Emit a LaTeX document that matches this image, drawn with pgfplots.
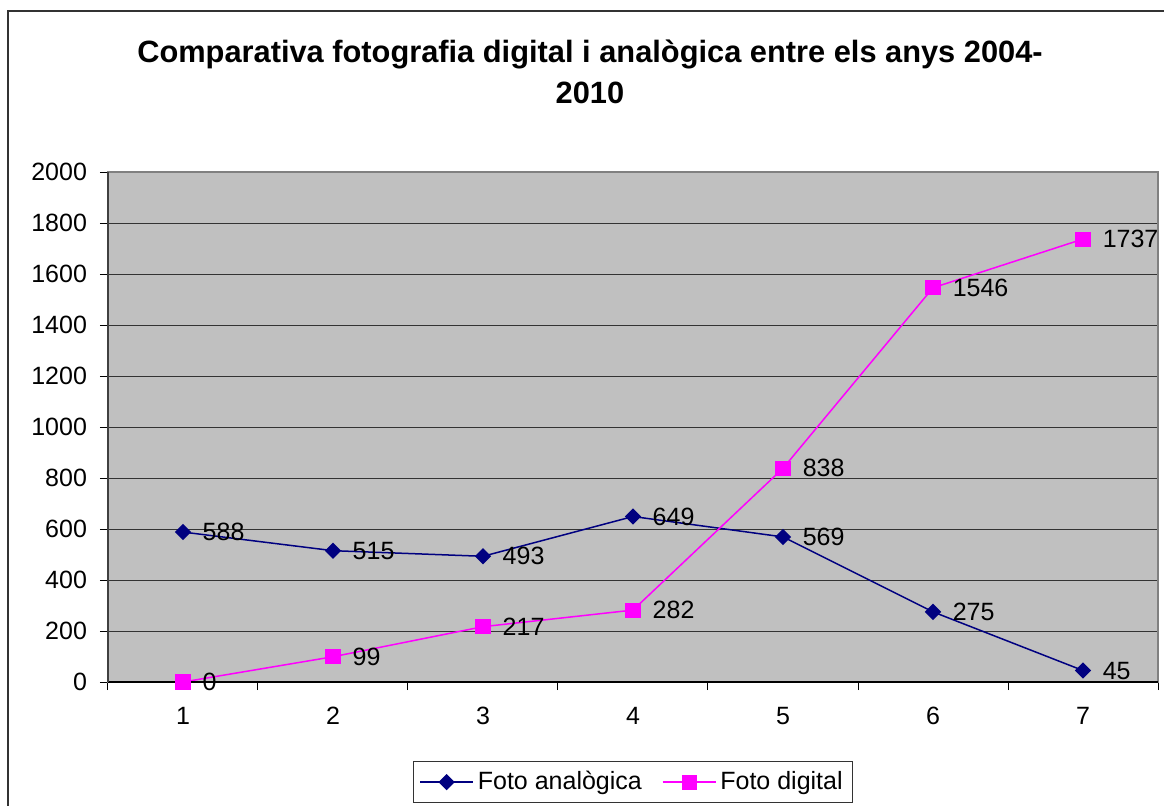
\documentclass[border=0pt]{standalone}
\usepackage{pgfplots}
\pgfplotsset{compat=1.18}
\usepackage{fontspec}
\setmainfont{Liberation Sans}
\definecolor{navyc}{HTML}{000080}
\definecolor{magc}{HTML}{FF00FF}
\definecolor{plotbg}{HTML}{C0C0C0}
\begin{document}
\begin{tikzpicture}
\path[use as bounding box] (-54pt,-61.5pt) rectangle (528pt,341pt);
\draw[line width=0.75pt, black!80] (-50pt,-63pt) -- (-50pt,335.5pt) -- (530pt,335.5pt);
\node[font=\bfseries\fontsize{15.4}{20.5}\selectfont, align=center] at (241pt,305pt) {Comparativa fotografia digital i analògica entre els anys 2004-\\2010};
\begin{axis}[
 scale only axis, width=525pt, height=255pt,
 xmin=0.5, xmax=7.5, ymin=0, ymax=2000,
 axis background/.style={fill=plotbg},
 axis line style={draw=gray, line width=0.75pt},
 ymajorgrids, grid style={black!80, line width=0.5pt},
 ytick={0,200,...,2000},
 xtick={1,...,7},
 minor xtick={0.5,1.5,...,7.5},
 tick align=outside, tick pos=left,
 major tick length=4pt, minor tick length=4pt,
 tick style={black, line width=0.5pt},
 major x tick style={draw=none},
 ticklabel style={font=\fontsize{12.5}{14}\selectfont},
 yticklabel style={xshift=-3pt},
 xticklabel style={yshift=-5pt},
 /pgf/number format/assume math mode=true,
 /pgf/number format/set thousands separator={},
 clip=false,
 legend image code/.code={\draw[mark repeat=2,mark phase=2] plot coordinates {(0pt,0pt) (13.25pt,0pt) (26.5pt,0pt)};},
 legend style={at={(0.5,-0.155)}, anchor=north, legend columns=2, draw=black!80, fill=white,
   font=\fontsize{12.5}{14}\selectfont, inner xsep=3pt, inner ysep=3pt,
   /tikz/every even column/.append style={column sep=8pt}},
 legend cell align=left,
]
\addplot[color=navyc, line width=0.75pt, mark=square*, mark size=2.5pt,
  mark options={rotate=45, fill=navyc, draw=navyc},
  nodes near coords,
  every node near coord/.append style={anchor=west, xshift=9.5pt, inner sep=0pt, text=black, font=\fontsize{12.5}{14}\selectfont}]
  coordinates {(1,588)(2,515)(3,493)(4,649)(5,569)(6,275)(7,45)};
\addlegendentry{Foto analògica}
\addplot[color=magc, line width=0.75pt, mark=square*, mark size=3.4pt,
  mark options={fill=magc, draw=magc},
  nodes near coords,
  every node near coord/.append style={anchor=west, xshift=9.5pt, inner sep=0pt, text=black, font=\fontsize{12.5}{14}\selectfont}]
  coordinates {(1,0)(2,99)(3,217)(4,282)(5,838)(6,1546)(7,1737)};
\addlegendentry{Foto digital}
\draw[black, line width=0.75pt] (rel axis cs:0,0) -- (rel axis cs:1,0);
\draw[black!75, line width=0.75pt] (rel axis cs:0,0) -- (rel axis cs:0,1);
\end{axis}
\end{tikzpicture}
\end{document}
